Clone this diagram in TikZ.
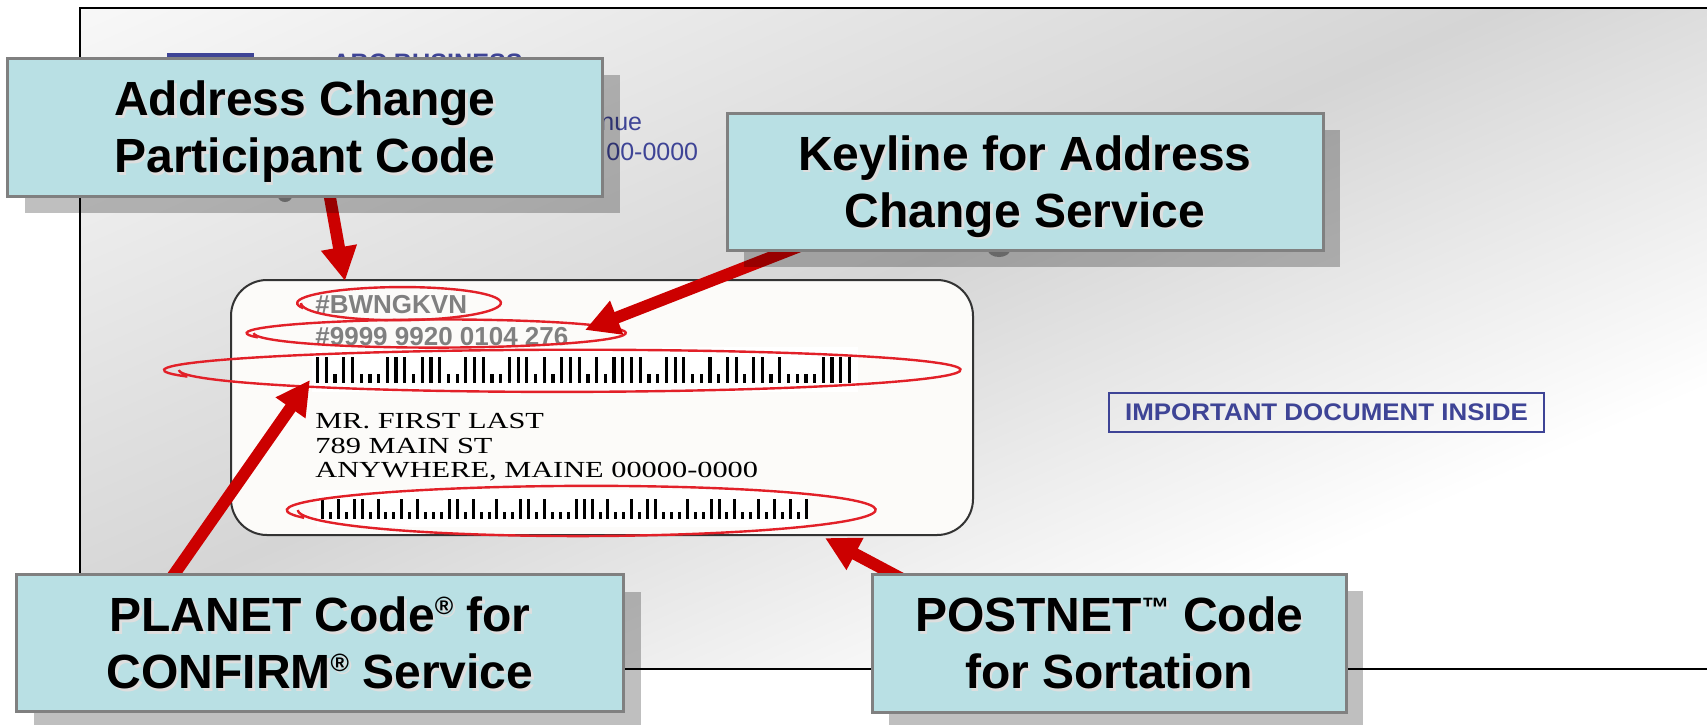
\documentclass[tikz,border=0pt]{standalone}
\usepackage{fontspec}
\setmainfont{Liberation Sans}
\newfontfamily\addrfont{Liberation Serif}
\usetikzlibrary{arrows.meta, shadows, calc, positioning}
\definecolor{boxfill}{RGB}{185,224,228}
\definecolor{boxedge}{RGB}{128,128,128}
\definecolor{arrowred}{RGB}{204,0,0}
\definecolor{ringred}{RGB}{226,32,40}
\definecolor{envblue}{RGB}{62,68,150}
\definecolor{codegray}{RGB}{128,128,128}
\definecolor{cardfill}{RGB}{252,251,249}
\definecolor{envlight}{RGB}{248,248,248}
\definecolor{envmid}{RGB}{213,213,213}
\definecolor{tabgray}{RGB}{140,140,140}
\definecolor{txtshadow}{RGB}{222,222,222}

\pgfdeclarelayer{envlayer}
\pgfdeclarelayer{arrowlayer}
\pgfsetlayers{envlayer,arrowlayer,main}

% grey band across the envelope
\pgfdeclareverticalshading{envshade}{950bp}{color(0bp)=(white); color(291bp)=(white);
  color(505bp)=(envmid); color(791bp)=(envlight); color(950bp)=(envlight)}

% text with a light shadow down right, no depth
\newcommand{\shd}[1]{\raisebox{0pt}[\height][0pt]{\makebox[0pt][l]{\hspace{1.3pt}\raisebox{-1.3pt}{\textcolor{txtshadow}{#1}}}#1}}
\newcommand{\regd}{\raisebox{8.5pt}{\fontsize{12.5pt}{12.5pt}\selectfont ®}}
\newcommand{\tmark}{\raisebox{7pt}{\fontsize{14pt}{14pt}\selectfont ™}}
% hand drawn red loop: centre x, centre y, radius x, radius y
\newcommand{\ringloop}[4]{\draw[ring] plot[smooth, samples=72, domain=160:540, variable=\t]
  ({#1+#3*(1.02-0.04*(\t-160)/380)*cos(\t)}, {#2+#4*(0.92+0.16*(\t-160)/380)*sin(\t)});}

\tikzset{
  callout/.style={draw=boxedge, line width=1.5pt, fill=boxfill, inner sep=0pt, align=center,
    font=\bfseries\fontsize{24pt}{28.5pt}\selectfont,
    drop shadow={shadow xshift=8.5pt, shadow yshift=-8.5pt, fill=black, opacity=0.25}},
  pointer/.style={draw=arrowred, line width=6pt, shorten <=-12pt, -{Triangle[length=17pt, width=17pt]}},
  ring/.style={draw=ringred, line width=1.2pt},
  card/.style={draw=black!80, line width=1pt, fill=cardfill, rounded corners=18pt},
  codetext/.style={anchor=base west, inner sep=0pt, text=codegray, font=\bfseries\fontsize{13pt}{15pt}\selectfont},
  addrline/.style={anchor=base west, inner sep=0pt, font=\addrfont\fontsize{11.5pt}{13pt}\selectfont},
  returnaddr/.style={anchor=base west, inner sep=0pt, text=envblue, font=\fontsize{12.5pt}{14pt}\selectfont},
}

\begin{document}
\begin{tikzpicture}[x=0.5pt, y=-0.5pt]
\useasboundingbox (0,0) rectangle (1707,724);

\begin{pgfonlayer}{envlayer}
  % envelope
  \begin{scope}
    \clip (80,8) rectangle (1720,669);
    \node[inner sep=0pt, rotate=23.6] (envfill) at (900,338.5) {\pgfuseshading{envshade}};
  \end{scope}
  \draw[line width=1pt] (80,8) rectangle (1720,669);
  % return address, mostly hidden
  \fill[envblue] (167,53) rectangle (254,75);
  \node[anchor=north west, inner sep=0pt, text=envblue, font=\bfseries\fontsize{12.6pt}{14pt}\selectfont] (firm) at (332,53) {ABC BUSINESS};
  \node[returnaddr] (street) at (600,130) {nue};
  \node[returnaddr] (city) at (606,160) {00-0000};
  \fill[tabgray] (285,196) ellipse (7 and 6);
  \fill[tabgray] (999,250) ellipse (11 and 7);
  % address label
  \node[card, minimum width=371pt, minimum height=127.5pt] (label) at (602,407.5) {};
  \fill[white] (312,347) rectangle (858,392);
  \fill[white] (317,490) rectangle (807,527);
  \node[codetext] (acp) at (315,313) {\#BWNGKVN};
  \node[codetext] (keyline) at (315,345) {\#9999 9920 0104 276};
  % PLANET bars
  \foreach \b [count=\i from 0] in {1,1,0,1,1, 0,0,0,1,1, 1,0,1,1,1, 0,0,1,1,1, 0,0,1,1,1, 0,1,0,1,1,
      1,0,1,0,1, 1,1,1,0,0, 1,1,1,0,0, 1,0,1,1,0, 1,1,0,1,0, 0,0,0,1,1, 1,1}
    \fill (316+\i*8.72,383) rectangle ++(3.2,{-(9+17*\b)});
  \node[addrline] (name) at (315,428) {\scalebox{1.32}[1]{MR. FIRST LAST}};
  \node[addrline] (street2) at (315,453) {\scalebox{1.32}[1]{789 MAIN ST}};
  \node[addrline] (town) at (315,477) {\scalebox{1.32}[1]{ANYWHERE, MAINE 00000-0000}};
  % POSTNET bars
  \foreach \b [count=\i from 0] in {1, 0,1,0,1,1, 0,1,0,0,1, 0,1,0,0,0, 1,1,0,1,0, 0,1,0,0,1, 1,0,1,0,0,
      0,1,1,1,0, 1,0,0,1,0, 1,1,0,0,0, 1,0,0,1,1, 0,1,0,0,1, 0,1,0,1,0, 1}
    \fill (321+\i*7.93,519) rectangle ++(3,{-(7+13*\b)});
  % red loops
  \ringloop{400}{303}{101}{16.5}
  \ringloop{438}{333}{188}{14}
  \ringloop{566}{370}{395}{21}
  \ringloop{584}{510}{292}{25}
  \node[draw=envblue, line width=1pt, inner sep=0pt, minimum width=217.5pt, minimum height=19.5pt,
    text=envblue, font=\bfseries\fontsize{12pt}{14pt}\selectfont] (important) at (1326.5,412.5)
    {\scalebox{1.08}[1]{IMPORTANT DOCUMENT INSIDE}};
\end{pgfonlayer}

% callouts
\node[callout, minimum width=297.5pt, minimum height=69pt] (acpbox) at (305,127)
  {\shd{Address Change}\\\shd{Participant Code}};
\node[callout, minimum width=298pt, minimum height=68.5pt] (keybox) at (1025,181.5)
  {\shd{Keyline for Address}\\\shd{Change Service}};
\node[callout, minimum width=303.5pt, minimum height=68.5pt] (planetbox) at (320,643)
  {\shd{PLANET Code\regd{} for}\\\shd{CONFIRM\regd{} Service}};
\node[callout, minimum width=237pt, minimum height=69pt] (postnetbox) at (1109,643)
  {\shd{POSTNET\tmark{} Code}\\\shd{for Sortation}};

\coordinate (tipacp) at (345,281);
\coordinate (tipkey) at (585,330);
\coordinate (tipplanet) at (310,380);
\coordinate (tippostnet) at (825,538);

\begin{pgfonlayer}{arrowlayer}
  \draw[pointer] ([xshift=12.5pt]acpbox.south) -- (tipacp);
  \draw[pointer] ([xshift=-119.5pt]keybox.south) -- (tipkey);
  \draw[pointer] ([xshift=-72.5pt]planetbox.north) -- (tipplanet);
  \draw[pointer] ([xshift=-109.5pt]postnetbox.north) -- (tippostnet);
\end{pgfonlayer}
\end{tikzpicture}
\end{document}
